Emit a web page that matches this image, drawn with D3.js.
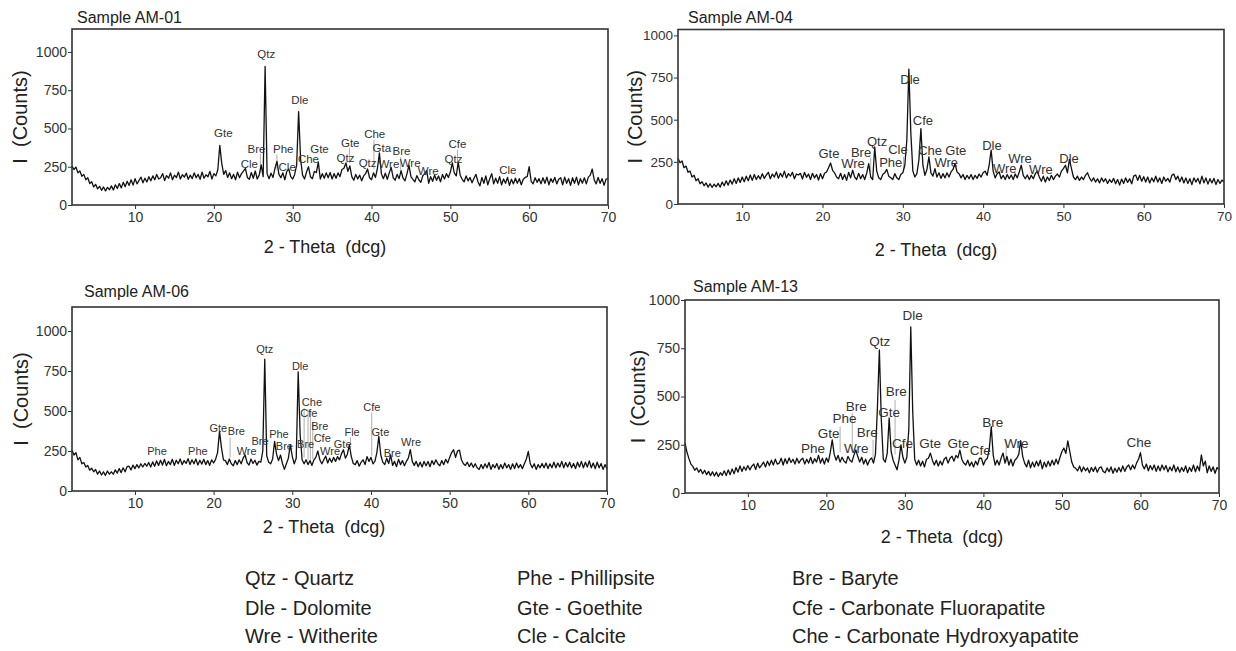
<!DOCTYPE html>
<html>
<head>
<meta charset="utf-8">
<script src="https://cdn.jsdelivr.net/npm/d3@7"></script>
<style>
    body { margin: 0; background: #fff; }
    svg { font-family: "Liberation Sans", Arial, sans-serif; }
    .frame { fill: none; stroke: #333; stroke-width: 1.6; }
    .trace { fill: none; stroke: #111; stroke-width: 1.3; stroke-linejoin: round; }
    .axis path { display: none; }
    .axis line { stroke: #333; }
    .axis text { fill: #333; }
    .peak { fill: #333; text-anchor: middle; }
    .leader { stroke: #999; stroke-width: 0.8; }
    .title { fill: #222; font-size: 16px; }
    .axisLabel { fill: #222; }
    .legend { fill: #222; font-size: 20px; }
</style>
</head>
<body>
<script>
//scan grid: first angle and step (degrees 2-theta)
var xStart = 2, xStep = 0.25;

//intensity counts, 2.00 to 70.00 every 0.25 deg
var am01 = [
    255,232,248,210,222,188,200,165,178,140,152,118,135,105,122,96,118,92,115,100,
    125,98,132,108,140,112,148,120,155,128,165,130,172,138,160,182,145,175,150,185,
    158,190,165,200,170,178,205,160,192,175,210,165,195,180,215,170,198,182,208,168,
    195,172,210,178,200,168,215,175,198,185,220,170,205,190,230,390,270,200,225,180,
    210,172,200,165,215,178,205,222,240,180,168,212,175,222,170,195,262,185,905,205,
    172,208,180,240,285,200,178,210,165,220,235,185,170,200,260,610,300,195,170,215,
    250,185,172,220,212,280,170,205,175,210,178,212,170,205,175,210,185,232,240,275,
    220,255,185,162,200,170,195,158,190,205,235,178,165,210,180,240,340,205,172,208,
    168,210,245,178,162,200,172,225,175,158,205,260,185,168,152,192,165,148,190,205,
    225,142,185,155,195,162,190,152,200,170,205,180,215,275,210,190,280,195,168,152,
    190,158,180,145,175,200,152,125,180,142,190,132,172,205,138,175,142,185,132,170,
    142,180,128,168,138,175,142,172,132,168,180,185,250,155,138,178,148,172,138,178,
    142,182,132,172,148,180,138,168,178,132,182,142,172,128,178,142,182,132,172,142,
    178,138,182,195,235,165,138,180,142,172,128,168,175
];
var am04 = [
    272,245,255,215,225,188,195,160,170,138,150,120,132,108,125,100,120,98,118,102,
    122,100,130,108,138,112,142,118,150,122,155,128,160,132,165,138,172,140,175,145,
    168,148,180,152,172,188,150,178,160,190,152,182,160,195,155,180,165,188,150,178,
    172,182,148,188,158,178,145,182,155,175,142,180,150,182,190,215,243,200,185,160,
    150,182,145,175,140,188,155,200,160,145,182,150,175,145,182,240,160,145,338,195,
    155,145,175,185,205,165,155,145,180,155,145,175,185,230,380,800,420,195,160,180,
    260,447,230,170,205,280,185,165,210,160,185,152,180,155,185,160,190,205,240,190,
    180,155,175,145,170,150,175,145,170,152,178,160,185,195,170,230,320,195,155,180,
    190,150,170,145,175,150,172,145,178,155,190,230,170,150,172,145,170,150,180,195,
    160,135,165,130,160,140,170,145,165,178,160,195,210,230,185,265,210,160,145,165,
    140,160,145,170,185,155,135,155,130,150,125,155,132,150,122,145,128,152,120,145,
    112,148,122,155,128,150,120,165,172,140,170,135,162,130,160,125,155,132,165,130,
    155,122,160,135,152,130,170,178,145,165,132,160,125,155,122,150,115,155,130,152,
    120,165,125,155,118,150,125,152,115,145,122,142,130
];
var am06 = [
    255,225,240,195,210,170,178,150,160,130,142,120,135,105,125,100,120,98,125,105,
    120,105,132,112,140,115,145,120,152,155,132,162,140,165,145,170,150,172,155,178,
    150,182,155,188,160,192,162,198,158,185,165,198,160,192,170,200,165,190,172,202,
    165,195,170,200,162,192,168,198,165,190,160,195,175,198,240,373,270,195,190,165,
    200,170,158,190,165,195,170,205,225,178,162,200,172,192,162,185,180,250,824,220,
    180,170,200,310,230,190,225,172,135,170,205,290,215,170,205,744,350,195,170,195,
    165,190,160,195,212,250,195,170,195,218,175,205,180,210,185,215,195,232,258,205,
    230,289,215,172,165,190,155,180,195,165,215,185,210,170,185,240,342,225,180,165,
    205,172,225,160,185,152,198,165,190,158,185,205,258,185,160,185,152,180,150,185,
    158,185,152,190,165,195,170,158,190,165,198,175,210,240,258,210,250,255,195,170,
    160,180,152,175,148,170,145,135,165,140,170,145,178,135,165,145,172,135,165,140,
    175,145,165,135,170,140,175,145,165,140,170,200,247,170,145,170,135,165,145,172,
    145,175,140,170,145,180,145,175,150,185,145,178,150,180,145,172,140,180,150,185,
    145,180,150,188,145,175,140,180,145,172,135,165,140
];
var am13 = [
    259,212,178,150,138,118,130,108,122,100,118,95,112,90,110,88,108,86,105,92,
    115,90,120,95,125,100,132,108,140,112,136,118,142,120,138,150,122,155,130,145,
    160,135,165,142,170,145,175,150,155,180,145,178,152,182,158,175,150,180,155,172,
    180,150,175,155,185,152,178,160,195,155,180,150,182,160,210,275,200,170,195,160,
    185,165,155,190,170,160,195,223,190,160,185,150,175,145,170,182,155,200,440,741,
    380,175,160,205,389,215,170,145,120,170,249,185,155,185,330,860,420,175,145,170,
    140,165,135,175,180,207,170,145,170,140,165,145,175,185,155,180,190,165,195,182,
    222,175,155,145,170,140,160,135,165,145,180,181,145,170,180,230,344,195,145,170,
    145,180,207,155,190,145,175,140,170,180,200,271,190,155,135,170,130,160,135,165,
    140,170,125,160,135,165,140,170,145,175,150,185,215,233,205,270,215,160,135,128,
    115,140,110,135,115,130,105,132,112,135,108,130,135,112,105,130,110,135,102,128,
    108,132,110,140,112,135,145,120,145,125,155,175,209,145,125,150,115,142,120,145,
    112,140,115,145,120,142,110,135,115,145,110,135,108,132,112,140,105,132,112,145,
    110,140,115,197,140,165,105,140,112,135,102,132,120
];

//peak labels: [mineral, 2-theta, counts at text baseline]
var am01Labels = [
    ["Gte",21.2,444],["Cle",24.5,242],["Bre",25.4,340],["Qtz",26.65,960],["Phe",28.8,340],
    ["Cle",29.3,222],["Dle",30.9,660],["Che",32.0,275],["Gte",33.4,340],["Qtz",36.7,281],
    ["Gte",37.3,380],["Qtz",39.5,248],["Che",40.4,438],["Gta",41.3,346],["Wre",42.2,242],
    ["Bre",43.8,327],["Wre",44.9,248],["Wre",47.2,196],["Qtz",50.4,274],["Cfe",50.9,373],
    ["Cle",57.3,203]
];
var am04Labels = [
    ["Gte",20.8,272],["Wre",23.8,213],["Bre",24.8,278],["Qtz",26.8,343],["Phe",28.5,219],
    ["Cle",29.4,296],["Dle",30.9,710],["Cfe",32.5,467],["Che",33.4,290],["Gte",36.6,290],
    ["Wre",35.4,219],["Dle",41.1,320],["Wre",42.7,183],["Wre",44.6,243],["Wre",47.2,178],
    ["Dle",50.7,243]
];
var am06Labels = [
    ["Phe",12.8,222],["Phe",18.0,222],["Gte",20.6,371],["Bre",22.9,348],["Wre",24.2,226],
    ["Bre",25.9,285],["Qtz",26.5,862],["Phe",28.3,331],["Bre",29.0,258],["Dle",31.0,757],
    ["Bre",31.7,268],["Che",32.5,530],["Cfe",32.1,463],["Bre",33.5,379],["Cfe",33.8,306],
    ["Wre",34.8,222],["Gte",36.4,268],["Fle",37.6,342],["Cfe",40.1,499],["Gte",41.2,342],
    ["Bre",42.7,212],["Wre",45.1,279]
];
var am13Labels = [
    ["Phe",18.3,209],["Gte",20.3,287],["Phe",22.3,364],["Bre",23.8,425],["Wre",23.8,209],
    ["Bre",25.2,292],["Qtz",26.8,763],["Gte",28.0,392],["Bre",28.9,502],["Cfe",29.7,232],
    ["Dle",31.0,896],["Gte",33.2,233],["Gte",36.8,233],["Cfe",39.6,197],["Bre",41.2,340],
    ["Wre",44.2,233],["Che",59.8,237]
];

//thin leader lines: [2-theta, top counts, bottom counts]
var am01Leaders = [[25.9,335,210],[28.0,330,230],[37.2,372,275],[40.3,425,235],[43.7,313,228],[50.9,360,261]];
var am04Leaders = [[26.0,275,190],[30.1,280,190]];
var am06Leaders = [[22.1,333,210],[31.5,520,210],[32.0,510,195],[32.3,505,195],[32.6,430,200],[37.4,335,290],[40.1,490,220]];
var am13Leaders = [[21.75,344,212],[23.3,414,212],[25.95,275,162],[28.75,482,200],[42.9,275,162]];

var xTicks = [10,20,30,40,50,60,70];
var yTicks = [0,250,500,750,1000];

var legendCodes = ["Qtz","Dle","Wre","Phe","Gte","Cle","Bre","Cfe","Che"];
var legendNames = ["Quartz","Dolomite","Witherite","Phillipsite","Goethite","Calcite",
    "Baryte","Carbonate Fluorapatite","Carbonate Hydroxyapatite"];

(function(){

    var svg = d3.select("body")
        .append("svg")
        .attr("width", 1236)
        .attr("height", 651);

    //frame boxes in pixels, plus the y range of each pattern
    var panels = [
        {title:"Sample AM-01", data:am01, labels:am01Labels, leaders:am01Leaders, yMax:1150,
         left:72, top:29, right:608, bottom:205, titleX:77, titleY:23, yLabX:27, xLabX:325, xLabY:253, peakSize:11.5, tickSize:14},
        {title:"Sample AM-04", data:am04, labels:am04Labels, leaders:am04Leaders, yMax:1035,
         left:678, top:29.5, right:1224, bottom:204, titleX:688, titleY:23, yLabX:642, xLabX:936, xLabY:256, peakSize:13, tickSize:13.5},
        {title:"Sample AM-06", data:am06, labels:am06Labels, leaders:am06Leaders, yMax:1150,
         left:72, top:307, right:607, bottom:491, titleX:84, titleY:297, yLabX:28, xLabX:324, xLabY:533, peakSize:11, tickSize:14},
        {title:"Sample AM-13", data:am13, labels:am13Labels, leaders:am13Leaders, yMax:1000,
         left:685, top:300, right:1219, bottom:493, titleX:693, titleY:292, yLabX:645, xLabX:942, xLabY:543, peakSize:13.5, tickSize:14}
    ];

    panels.forEach(drawPanel);
    drawLegend();

    function drawPanel(p){
        var x = d3.scaleLinear().domain([xStart, 70]).range([p.left, p.right]);
        var y = d3.scaleLinear().domain([0, p.yMax]).range([p.bottom, p.top]);

        var g = svg.append("g").attr("class", "panel");

        //title above the frame
        g.append("text")
            .attr("class", "title")
            .attr("x", p.titleX)
            .attr("y", p.titleY)
            .text(p.title);

        //leader lines sit under the trace
        g.selectAll(".leader")
            .data(p.leaders)
            .enter()
            .append("line")
            .attr("class", "leader")
            .attr("x1", function(d){ return x(d[0]); })
            .attr("x2", function(d){ return x(d[0]); })
            .attr("y1", function(d){ return y(d[1]); })
            .attr("y2", function(d){ return y(d[2]); });

        //diffraction trace
        var line = d3.line()
            .x(function(d, i){ return x(xStart + i * xStep); })
            .y(function(d){ return y(d); });

        g.append("path")
            .datum(p.data)
            .attr("class", "trace")
            .attr("d", line);

        //peak labels
        g.selectAll(".peak")
            .data(p.labels)
            .enter()
            .append("text")
            .attr("class", "peak")
            .attr("x", function(d){ return x(d[1]); })
            .attr("y", function(d){ return y(d[2]); })
            .style("font-size", p.peakSize + "px")
            .text(function(d){ return d[0]; });

        //axes
        var xAxis = d3.axisBottom(x).tickValues(xTicks).tickSize(4).tickPadding(3);
        g.append("g")
            .attr("class", "axis")
            .attr("transform", "translate(0," + p.bottom + ")")
            .call(xAxis)
            .selectAll("text").style("font-size", p.tickSize + "px");

        var yAxis = d3.axisLeft(y).tickValues(yTicks).tickFormat(d3.format("d")).tickSize(4).tickPadding(1);
        g.append("g")
            .attr("class", "axis")
            .attr("transform", "translate(" + p.left + ",0)")
            .call(yAxis)
            .selectAll("text").style("font-size", p.tickSize + "px");

        //frame
        g.append("rect")
            .attr("class", "frame")
            .attr("x", p.left)
            .attr("y", p.top)
            .attr("width", p.right - p.left)
            .attr("height", p.bottom - p.top);

        //axis titles
        g.append("text")
            .attr("class", "axisLabel")
            .attr("transform", "translate(" + p.yLabX + "," + ((p.top + p.bottom) / 2) + ") rotate(-90)")
            .attr("text-anchor", "middle")
            .style("font-size", "20px")
            .style("white-space", "pre")
            .text("I  (Counts)");

        g.append("text")
            .attr("class", "axisLabel")
            .attr("x", p.xLabX)
            .attr("y", p.xLabY)
            .attr("text-anchor", "middle")
            .style("font-size", "18px")
            .style("white-space", "pre")
            .text("2 - Theta  (dcg)");
    };

    function drawLegend(){
        var colX = [245, 517, 792],
            rowY = [585, 615, 643];

        svg.selectAll(".legend")
            .data(legendCodes)
            .enter()
            .append("text")
            .attr("class", "legend")
            .attr("x", function(d, i){ return colX[Math.floor(i / 3)]; })
            .attr("y", function(d, i){ return rowY[i % 3]; })
            .text(function(d, i){ return d + " - " + legendNames[i]; });
    };

})();
</script>
</body>
</html>
